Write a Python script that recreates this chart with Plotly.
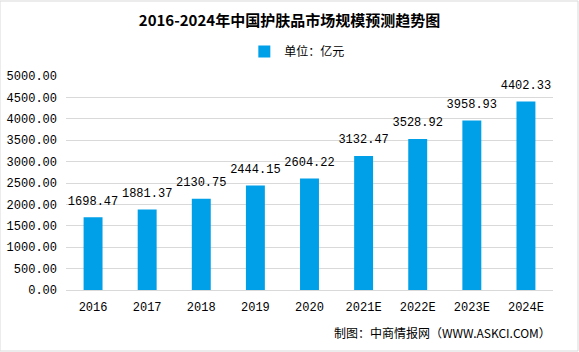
import plotly.graph_objects as go

years = ["2016", "2017", "2018", "2019", "2020", "2021E", "2022E", "2023E", "2024E"]
values = [1698.47, 1881.37, 2130.75, 2444.15, 2604.22, 3132.47, 3528.92, 3958.93, 4402.33]
tick_vals = [0, 500, 1000, 1500, 2000, 2500, 3000, 3500, 4000, 4500, 5000]
tick_text = [f"{v:.2f}" for v in tick_vals]

num_font = "Liberation Mono, Noto Sans CJK SC"
cjk_font = "Noto Sans CJK SC"

fig = go.Figure()
fig.add_trace(go.Bar(
    x=years, y=values, name="单位：亿元",
    marker=dict(color="#00A0E9", line=dict(width=0)),
))
fig.add_trace(go.Scatter(
    x=years, y=values, mode="markers+text", showlegend=False,
    marker=dict(size=14, opacity=0),
    text=[f"{v:.2f}" for v in values], textposition="top center",
    textfont=dict(family=num_font, size=12, color="#000000"),
    cliponaxis=False, hoverinfo="skip",
))

fig.update_layout(
    width=579, height=352,
    margin=dict(l=66, r=26, t=76, b=62),
    paper_bgcolor="white", plot_bgcolor="white",
    bargap=0.65,
    title=dict(text="<b>2016-2024年中国护肤品市场规模预测趋势图</b>",
               x=0.5, xanchor="center", y=0.94, yanchor="middle",
               font=dict(family=cjk_font, size=15, color="#000000")),
    showlegend=True,
    legend=dict(orientation="h", x=0.475, xanchor="center", y=1.115, yanchor="middle",
                font=dict(family=cjk_font, size=12, color="#000000"),
                itemwidth=30),
    xaxis=dict(tickfont=dict(family=num_font, size=12, color="#000000"),
               range=[-0.5, len(years) - 0.5], ticklabelstandoff=6, automargin=False,
               showline=True, linecolor="#D9D9D9", ticks=""),
    yaxis=dict(range=[0, 5000], tickvals=tick_vals, ticktext=tick_text,
               tickfont=dict(family=num_font, size=12, color="#000000"),
               ticklabelstandoff=8, automargin=False,
               showgrid=True, gridcolor="#D9D9D9", zeroline=False,
               showline=False, ticks=""),
    annotations=[dict(text="制图：中商情报网（WWW.ASKCI.COM）", xref="paper", yref="paper",
                      x=1.0, xanchor="right", y=-0.2, yanchor="middle", showarrow=False,
                      font=dict(family=cjk_font, size=12, color="#000000"))],
    shapes=[dict(type="rect", xref="paper", yref="paper", x0=-66/487, x1=1+25/487,
                 y0=-61/214, y1=1+75/214, line=dict(color="#D9D9D9", width=1))],
)
fig.write_html("out.html")
